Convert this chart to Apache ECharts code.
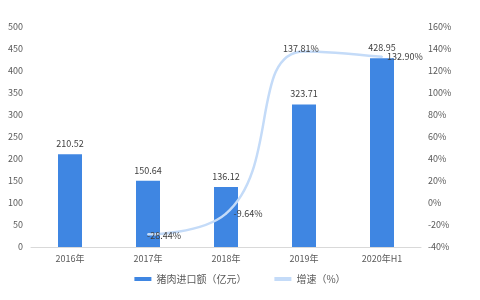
<!DOCTYPE html>
<html><head><meta charset="utf-8">
<script src="https://cdn.jsdelivr.net/npm/echarts@6/dist/echarts.min.js"></script>
<style>html,body{margin:0;padding:0;background:#fff}#c{width:480px;height:300px}</style>
</head><body><div id="c"></div>
<script>
var categories = ['2016年','2017年','2018年','2019年','2020年H1'];
var importValues = [210.52, 150.64, 136.12, 323.71, 428.95];
var growthRates = [null, -28.44, -9.64, 137.81, 132.90];
var leftTicks = [0, 500, 50];
var rightTicks = [-40, 160, 20];

var chart = echarts.init(document.getElementById('c'), null, {renderer:'canvas'});
var font = '"Microsoft YaHei","Noto Sans CJK SC",sans-serif';
var labelOffsets = [[0,0],[16,1],[22,0],[-3,-3],[23,0]];
chart.setOption({
  animation:false,
  textStyle:{fontFamily:font},
  grid:{left:31, right:59, top:27, bottom:53},
  legend:{
    bottom:11, left:'center', itemGap:28, itemWidth:17, itemHeight:4,
    textStyle:{color:'#595959', fontSize:10, fontFamily:font},
    data:[{name:'猪肉进口额（亿元）', icon:'rect'},{name:'增速（%）', icon:'rect'}]
  },
  xAxis:{
    type:'category', data:categories,
    axisLine:{lineStyle:{color:'#d9d9d9'}}, axisTick:{show:false},
    axisLabel:{color:'#595959', fontSize:9, margin:7}
  },
  yAxis:[{
    type:'value', min:leftTicks[0], max:leftTicks[1], interval:leftTicks[2],
    axisLine:{show:false}, axisTick:{show:false}, splitLine:{show:false},
    axisLabel:{color:'#595959', fontSize:9, margin:8}
  },{
    type:'value', min:rightTicks[0], max:rightTicks[1], interval:rightTicks[2],
    axisLine:{show:false}, axisTick:{show:false}, splitLine:{show:false},
    axisLabel:{color:'#595959', fontSize:9, margin:7, formatter:'{value}%'}
  }],
  series:[{
    name:'猪肉进口额（亿元）', type:'bar', data:importValues, barWidth:24,
    itemStyle:{color:'#3f86e2'},
    label:{show:true, position:'top', color:'#404040', fontSize:9, distance:6, formatter:function(p){return p.value.toFixed(2);}}
  },{
    name:'增速（%）', type:'line', yAxisIndex:1, smooth:0.5,
    data:growthRates.map(function(v,i){return {value:v, label:{show:v!=null, offset:labelOffsets[i]}};}),
    showSymbol:true, symbol:'circle', symbolSize:2, connectNulls:false,
    lineStyle:{color:'#c4dbf8', width:2.5},
    itemStyle:{color:'#c4dbf8'},
    label:{show:true, position:'inside', color:'#404040', fontSize:9, formatter:function(p){return p.value==null?'':p.value.toFixed(2)+'%';}}
  }]
});
</script></body></html>
